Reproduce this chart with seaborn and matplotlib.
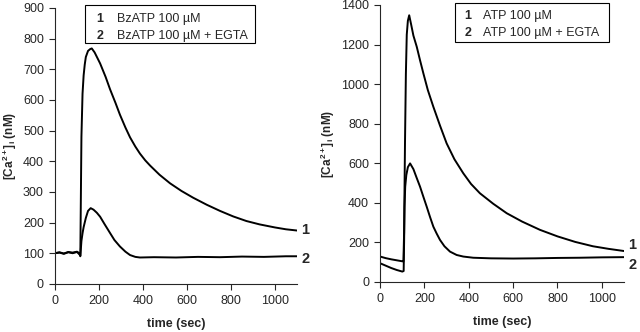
import numpy as np
import pandas as pd
import matplotlib
matplotlib.use("Agg")
import matplotlib.pyplot as plt
import seaborn as sns
from matplotlib.patches import Rectangle

# BzATP panel (left)
t_bz1 = [0, 20, 40, 60, 80, 100, 110, 115, 117, 120, 125, 130, 135, 140, 150, 160, 167, 180, 205, 230,
         250, 275, 295, 320, 341, 365, 386, 410, 432, 475, 523, 575, 628, 690, 750, 810, 870, 930, 1000,
         1050, 1100]
v_bz1 = [100, 102, 98, 103, 100, 104, 97, 93, 250, 480, 620, 680, 715, 740, 760, 766, 768, 755, 719, 675,
         635, 590, 552, 510, 478, 448, 425, 403, 386, 356, 328, 303, 281, 258, 238, 220, 205, 194, 184,
         178, 174]
t_bz2 = [0, 20, 40, 60, 80, 100, 110, 115, 117, 120, 125, 130, 140, 150, 162, 175, 190, 205, 225, 250,
         270, 295, 320, 341, 365, 386, 450, 550, 650, 750, 850, 950, 1050, 1100]
v_bz2 = [100, 103, 99, 104, 102, 105, 100, 90, 110, 140, 165, 185, 215, 238, 247, 242, 232, 219, 195, 166,
         143, 122, 105, 94, 88, 86, 87, 86, 88, 87, 89, 88, 90, 90]

# ATP panel (right)
t_atp1 = [0, 25, 50, 75, 100, 105, 108, 112, 116, 120, 125, 131, 140, 150, 165, 180, 195, 215, 240, 270,
          300, 335, 375, 410, 450, 510, 571, 640, 721, 800, 880, 960, 1030, 1100]
v_atp1 = [128, 120, 114, 109, 104, 103, 250, 700, 1050, 1250, 1320, 1348, 1300, 1245, 1189, 1120, 1054,
          970, 885, 790, 700, 620, 549, 495, 448, 395, 347, 305, 263, 230, 202, 180, 167, 156]
t_atp2 = [0, 25, 50, 75, 100, 106, 108, 110, 113, 118, 125, 135, 150, 165, 180, 195, 210, 225, 240, 255,
          270, 290, 315, 345, 375, 420, 500, 600, 700, 800, 900, 1000, 1100]
v_atp2 = [94, 82, 70, 60, 52, 55, 200, 380, 481, 540, 580, 599, 570, 525, 481, 430, 380, 328, 279, 244,
          212, 180, 153, 136, 128, 122, 119, 118, 119, 121, 122, 124, 125]

legend_left = ["BzATP 100 µM", "BzATP 100 µM + EGTA"]
legend_right = ["ATP 100 µM", "ATP 100 µM + EGTA"]

sns.set_style("ticks")
plt.rcParams['font.family'] = ['Liberation Sans', 'DejaVu Sans']
plt.rcParams['font.size'] = 9
plt.rcParams['mathtext.fontset'] = 'custom'
plt.rcParams['mathtext.rm'] = 'Liberation Sans'
plt.rcParams['mathtext.bf'] = 'Liberation Sans:bold'

fig = plt.figure(figsize=(6.4, 3.32), dpi=100)
ax1 = fig.add_axes([0.086, 0.145, 0.378, 0.831])
ax2 = fig.add_axes([0.594, 0.151, 0.381, 0.834])

panels = [
    (ax1, [(t_bz1, v_bz1), (t_bz2, v_bz2)], 900, 100, (2, -8)),
    (ax2, [(t_atp1, v_atp1), (t_atp2, v_atp2)], 1400, 200, (30, -38)),
]

for ax, series, ymax, ystep, offs in panels:
    for i, (t, v) in enumerate(series):
        df = pd.DataFrame({"time": t, "ca": v})
        sns.lineplot(data=df, x="time", y="ca", ax=ax, color="black", lw=1.4)
        # curve number at the right end
        ax.text(1120, v[-1] + offs[i], str(i + 1), fontsize=10.5, fontweight="bold",
                va="center", ha="left", clip_on=False)
    ax.set_xlim(0, 1100)
    ax.set_ylim(0, ymax)
    ax.set_xticks(np.arange(0, 1001, 200))
    ax.set_yticks(np.arange(0, ymax + 1, ystep))
    ax.tick_params(length=4, width=0.8, pad=4, labelsize=9)
    ax.set_xlabel("time (sec)", fontweight="bold", fontsize=9, labelpad=8)
    ax.set_ylabel(r"$\mathbf{[Ca^{2+}]_i}$ $\mathbf{(nM)}$", fontsize=8.5, labelpad=3)
    sns.despine(ax=ax)
    for s in ["left", "bottom"]:
        ax.spines[s].set_linewidth(0.8)

# legend boxes
ax1.add_patch(Rectangle((0.124, 0.873), 0.702, 0.137, transform=ax1.transAxes,
                        fill=False, lw=0.8, ec="black", clip_on=False))
ax2.add_patch(Rectangle((0.307, 0.867), 0.631, 0.14, transform=ax2.transAxes,
                        fill=False, lw=0.8, ec="black", clip_on=False))
for i, lab in enumerate(legend_left):
    y = 0.96 - i * 0.06
    ax1.text(0.185, y, str(i + 1), transform=ax1.transAxes, fontweight="bold", va="center", ha="center")
    ax1.text(0.255, y, lab, transform=ax1.transAxes, va="center")
for i, lab in enumerate(legend_right):
    y = 0.96 - i * 0.062
    ax2.text(0.36, y, str(i + 1), transform=ax2.transAxes, fontweight="bold", va="center", ha="center")
    ax2.text(0.42, y, lab, transform=ax2.transAxes, va="center")

fig.savefig("out.png", dpi=100)
